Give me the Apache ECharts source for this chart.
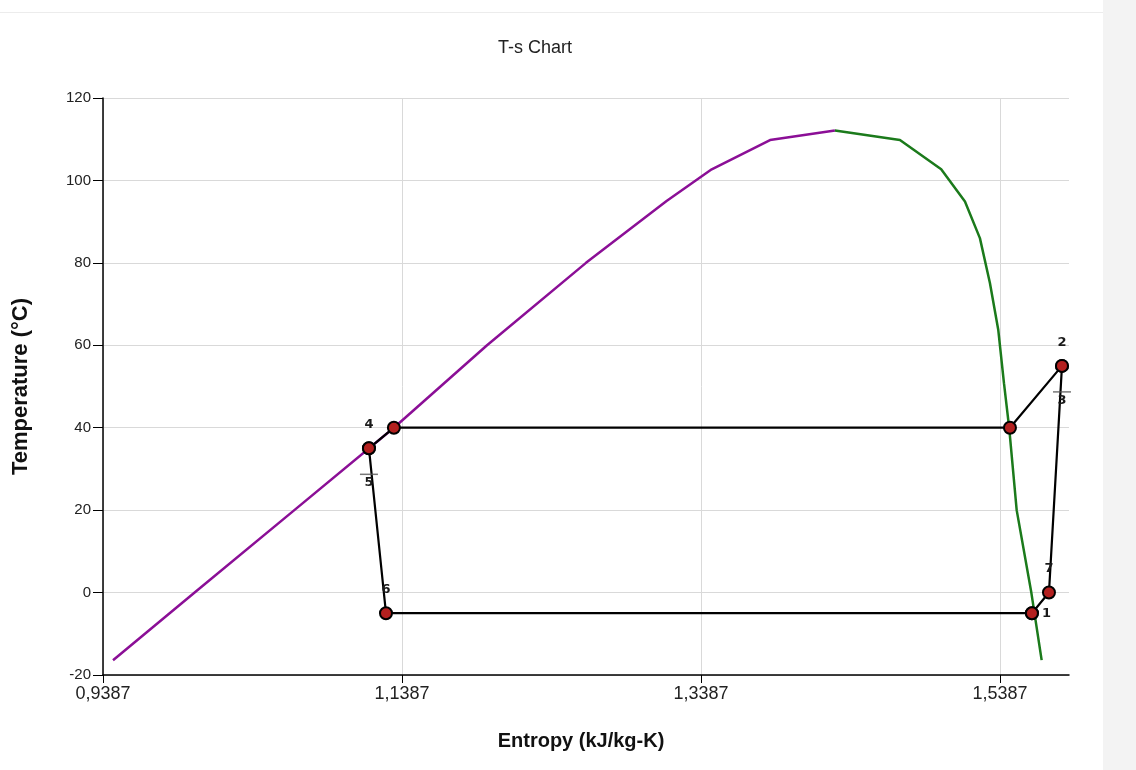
<!DOCTYPE html>
<html>
<head>
<meta charset="utf-8">
<script src="https://cdn.jsdelivr.net/npm/echarts@6/dist/echarts.min.js"></script>
<style>
html,body{margin:0;padding:0;background:#fff;}
#chart{width:1136px;height:770px;}
</style>
</head>
<body>
<div id="chart"></div>
<script>
// Saturated liquid line (purple)
var liquidS = [0.9454, 1.0000, 1.0667, 1.1333, 1.1956, 1.2618, 1.3157, 1.3459, 1.3849, 1.4283];
var liquidT = [-16.4, 0, 20, 40, 60, 80, 95, 102.7, 109.8, 112.1];
// Saturated vapour line (green)
var vaporS = [1.4283, 1.4718, 1.4994, 1.5153, 1.5253, 1.5320, 1.5376, 1.5414, 1.5449, 1.5499, 1.5597, 1.5666];
var vaporT = [112.1, 109.8, 102.7, 94.9, 86.0, 75.1, 63.7, 50.8, 39.9, 20.0, 0, -16.4];
// Cycle points (black)
var cycleS = [1.5601, 1.5715, 1.5802, 1.5802, 1.5454, 1.1333, 1.1166, 1.1166, 1.1280, 1.5601];
var cycleT = [-5, 0, 55, 55, 40, 40, 35, 35, -5, -5];
var cycleNames = ['1', '7', '2', '3', '', '', '4', '5', '6', ''];
// Axis ticks
var xTicks = [0.9387, 1.1387, 1.3387, 1.5387];
var xMin = 0.9387, xMax = 1.5849;
var yMin = -20, yMax = 120, yStep = 20;

function pairs(a, b) { return a.map(function (v, i) { return [v, b[i]]; }); }

var SANS = 'Liberation Sans';

var labelPos = { '1': 'right', '3': 'bottom', '5': 'bottom' };
var cycleData = cycleS.map(function (s, i) {
  var n = cycleNames[i];
  var pos = labelPos[n] || 'top';
  return {
    value: [s, cycleT[i]],
    name: n,
    label: {
      show: n !== '',
      position: pos,
      distance: pos === 'bottom' ? 21 : (pos === 'right' ? 3 : 10)
    }
  };
});
var calloutData = cycleS.map(function (s, i) { return [s, cycleT[i], cycleNames[i]]; })
  .filter(function (d) { return labelPos[d[2]] === 'bottom'; });

var chart = echarts.init(document.getElementById('chart'), null, { renderer: 'canvas' });
var option = {
  backgroundColor: '#ffffff',
  animation: false,
  title: {
    text: 'T-s Chart',
    left: 530, top: 34,
    textAlign: 'center',
    textStyle: { fontFamily: SANS, fontSize: 18, fontWeight: 'normal', color: '#222' }
  },
  graphic: [
    { type: 'rect', left: 1103, top: 0, shape: { width: 33, height: 770 }, style: { fill: '#f3f3f3' }, silent: true },
    { type: 'rect', left: 0, top: 12, shape: { width: 1103, height: 1 }, style: { fill: '#ececec' }, silent: true }
  ],
  grid: { left: 103, right: 67, top: 98, bottom: 95, containLabel: false },
  xAxis: {
    type: 'value', min: xMin, max: xMax,
    name: 'Entropy (kJ/kg-K)', nameLocation: 'middle', nameGap: 56,
    nameTextStyle: { fontFamily: SANS, fontSize: 20, fontWeight: 'bold', color: '#111', padding: [0, 10, 0, 0] },
    axisLine: { show: true, onZero: false, lineStyle: { color: '#000', width: 1.5 } },
    axisTick: { show: true, length: 8, customValues: xTicks, lineStyle: { color: '#000' } },
    axisLabel: {
      customValues: xTicks, margin: 10,
      fontFamily: SANS, fontSize: 18, color: '#222',
      formatter: function (v) { return v.toFixed(4).replace('.', ','); }
    },
    splitLine: { show: true, lineStyle: { color: '#d9d9d9', width: 1 } }
  },
  yAxis: {
    type: 'value', min: yMin, max: yMax, interval: yStep,
    name: 'Temperature (°C)', nameLocation: 'middle', nameGap: 71, nameRotate: 90,
    nameTextStyle: { fontFamily: SANS, fontSize: 22, fontWeight: 'bold', color: '#111' },
    axisLine: { show: true, onZero: false, lineStyle: { color: '#000', width: 1.5 } },
    axisTick: { show: true, length: 10, lineStyle: { color: '#000' } },
    axisLabel: { margin: 12, fontFamily: SANS, fontSize: 15, color: '#222' },
    splitLine: { show: true, lineStyle: { color: '#d9d9d9', width: 1 } }
  },
  series: [
    {
      name: 'Saturated liquid', type: 'line', data: pairs(liquidS, liquidT),
      showSymbol: false, lineStyle: { color: '#8b0f96', width: 2.5 }, z: 2
    },
    {
      name: 'Saturated vapour', type: 'line', data: pairs(vaporS, vaporT),
      showSymbol: false, lineStyle: { color: '#1b7a1b', width: 2.5 }, z: 2
    },
    {
      name: 'Cycle', type: 'line', data: cycleData,
      symbol: 'circle', symbolSize: 12, showAllSymbol: true,
      lineStyle: { color: '#000', width: 2.2 },
      itemStyle: { color: '#b3201f', borderColor: '#000', borderWidth: 2 },
      label: {
        formatter: function (p) { return p.name; },
        fontFamily: 'DejaVu Sans', fontSize: 13, fontWeight: 'bold', color: '#1a1a1a'
      },
      z: 4
    },
    {
      name: 'Callouts', type: 'scatter', data: calloutData,
      symbol: 'rect', symbolSize: [18, 1.5], symbolOffset: [0, 26],
      itemStyle: { color: '#555' }, z: 5, silent: true
    }
  ]
};
chart.setOption(option);
</script>
</body>
</html>
